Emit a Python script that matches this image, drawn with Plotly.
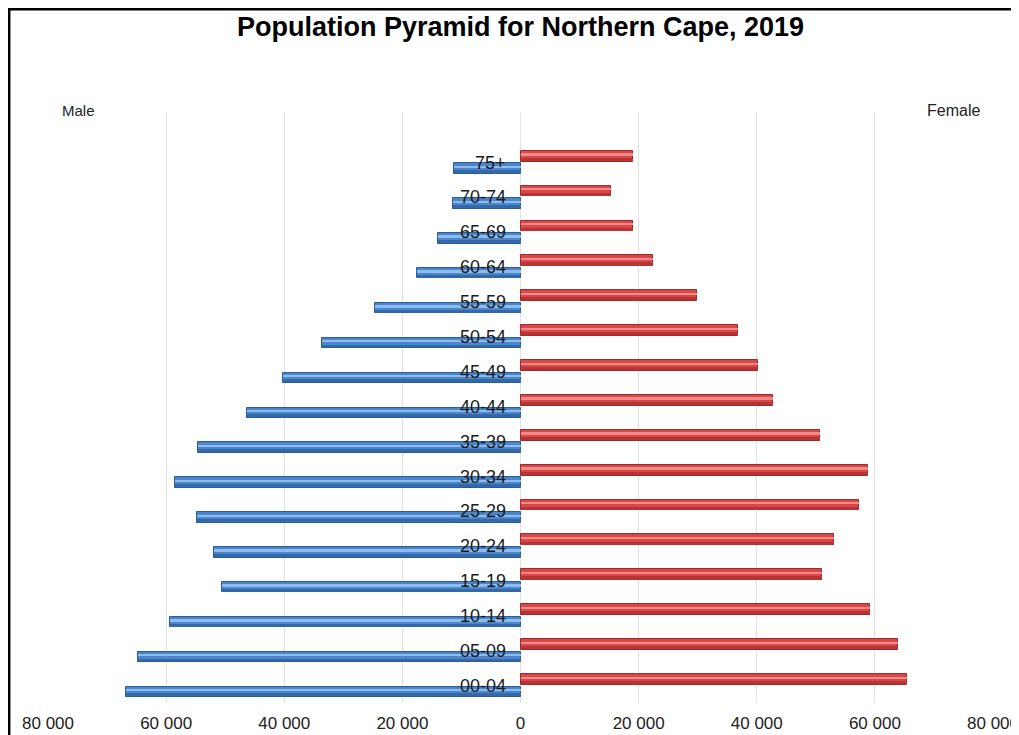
import plotly.graph_objects as go

age_groups = ["00-04", "05-09", "10-14", "15-19", "20-24", "25-29", "30-34", "35-39",
              "40-44", "45-49", "50-54", "55-59", "60-64", "65-69", "70-74", "75+"]
male = [66800, 64700, 59300, 50500, 51900, 54700, 58500, 54600,
        46300, 40200, 33600, 24600, 17600, 13900, 11500, 11200]
female = [65400, 63900, 59200, 51000, 53100, 57300, 58800, 50700,
          42700, 40200, 36900, 29800, 22400, 19000, 15400, 19000]
tick_values = [-80000, -60000, -40000, -20000, 0, 20000, 40000, 60000, 80000]
tick_labels = ["80 000", "60 000", "40 000", "20 000", "0", "20 000", "40 000", "60 000", "80 000"]

# page body has an 8px margin, so the figure starts at (8, 8) in the window
W, H = 1011, 727
L, R, T, B = 40, 26, 104, 32
pw, ph = W - L - R, H - T - B

ypos = list(range(len(age_groups)))
male_neg = [-v for v in male]

fig = go.Figure()

def add_3d_bar(xvals, offset, width, base_col, edge_col, hi_col, shade_col):
    fig.add_trace(go.Bar(y=ypos, x=xvals, orientation="h", offset=offset, width=width,
                         marker=dict(color=base_col, line=dict(color=edge_col, width=1)),
                         hoverinfo="skip", showlegend=False))
    fig.add_trace(go.Bar(y=ypos, x=xvals, orientation="h", offset=offset + 0.02, width=width * 0.28,
                         marker=dict(color=shade_col, line=dict(width=0)),
                         hoverinfo="skip", showlegend=False))
    fig.add_trace(go.Bar(y=ypos, x=xvals, orientation="h", offset=offset + width * 0.55, width=width * 0.22,
                         marker=dict(color=hi_col, line=dict(width=0)),
                         hoverinfo="skip", showlegend=False))

add_3d_bar(male_neg, -0.32, 0.30, "#4a86cc", "#2b5c9a", "#8fbcec", "#3468a8")
add_3d_bar(female, 0.03, 0.31, "#d84848", "#9e2a2a", "#f28a8a", "#b83434")

FONT = "Liberation Sans, Arial, sans-serif"
annotations = []
for i, g in enumerate(age_groups):
    annotations.append(dict(x=0, y=i, xref="x", yref="y", text=g, showarrow=False,
                            xanchor="right", yanchor="middle", xshift=-13,
                            font=dict(family=FONT, size=18, color="#1a1a1a")))
annotations.append(dict(x=(52 - L) / pw, y=(H - B - 102) / ph, xref="paper", yref="paper", text="Male",
                        showarrow=False, xanchor="left", yanchor="middle",
                        font=dict(family=FONT, size=15, color="#222")))
annotations.append(dict(x=(974 - L) / pw, y=(H - B - 102) / ph, xref="paper", yref="paper", text="Female",
                        showarrow=False, xanchor="right", yanchor="middle",
                        font=dict(family=FONT, size=16, color="#222")))

shapes = [dict(type="rect", xref="paper", yref="paper",
               x0=(1.2 - L) / pw, x1=(1040 - L) / pw,
               y0=(H - B - 760) / ph, y1=(H - B - 1.2) / ph,
               line=dict(color="black", width=2.5), fillcolor="rgba(0,0,0,0)", layer="above")]

fig.update_layout(
    width=W, height=H,
    margin=dict(l=L, r=R, t=T, b=B, autoexpand=False),
    paper_bgcolor="white", plot_bgcolor="white",
    barmode="overlay",
    title=dict(text="<b>Population Pyramid for Northern Cape, 2019</b>", x=0.5, xref="paper",
               xanchor="center", y=1 - 19 / H, yanchor="middle",
               font=dict(family=FONT, size=27, color="black")),
    xaxis=dict(range=[-80000, 80000], tickvals=tick_values, ticktext=tick_labels,
               showgrid=True, gridcolor="#e2e2e2", gridwidth=1, zeroline=False,
               showline=False, ticks="", ticklabelstandoff=8,
               tickfont=dict(family=FONT, size=17, color="#222")),
    yaxis=dict(range=[-0.49, 16.45], showticklabels=False, showgrid=False, zeroline=False,
               showline=False, ticks=""),
    annotations=annotations,
    shapes=shapes,
    bargap=0,
)

fig.write_html("out.html")
